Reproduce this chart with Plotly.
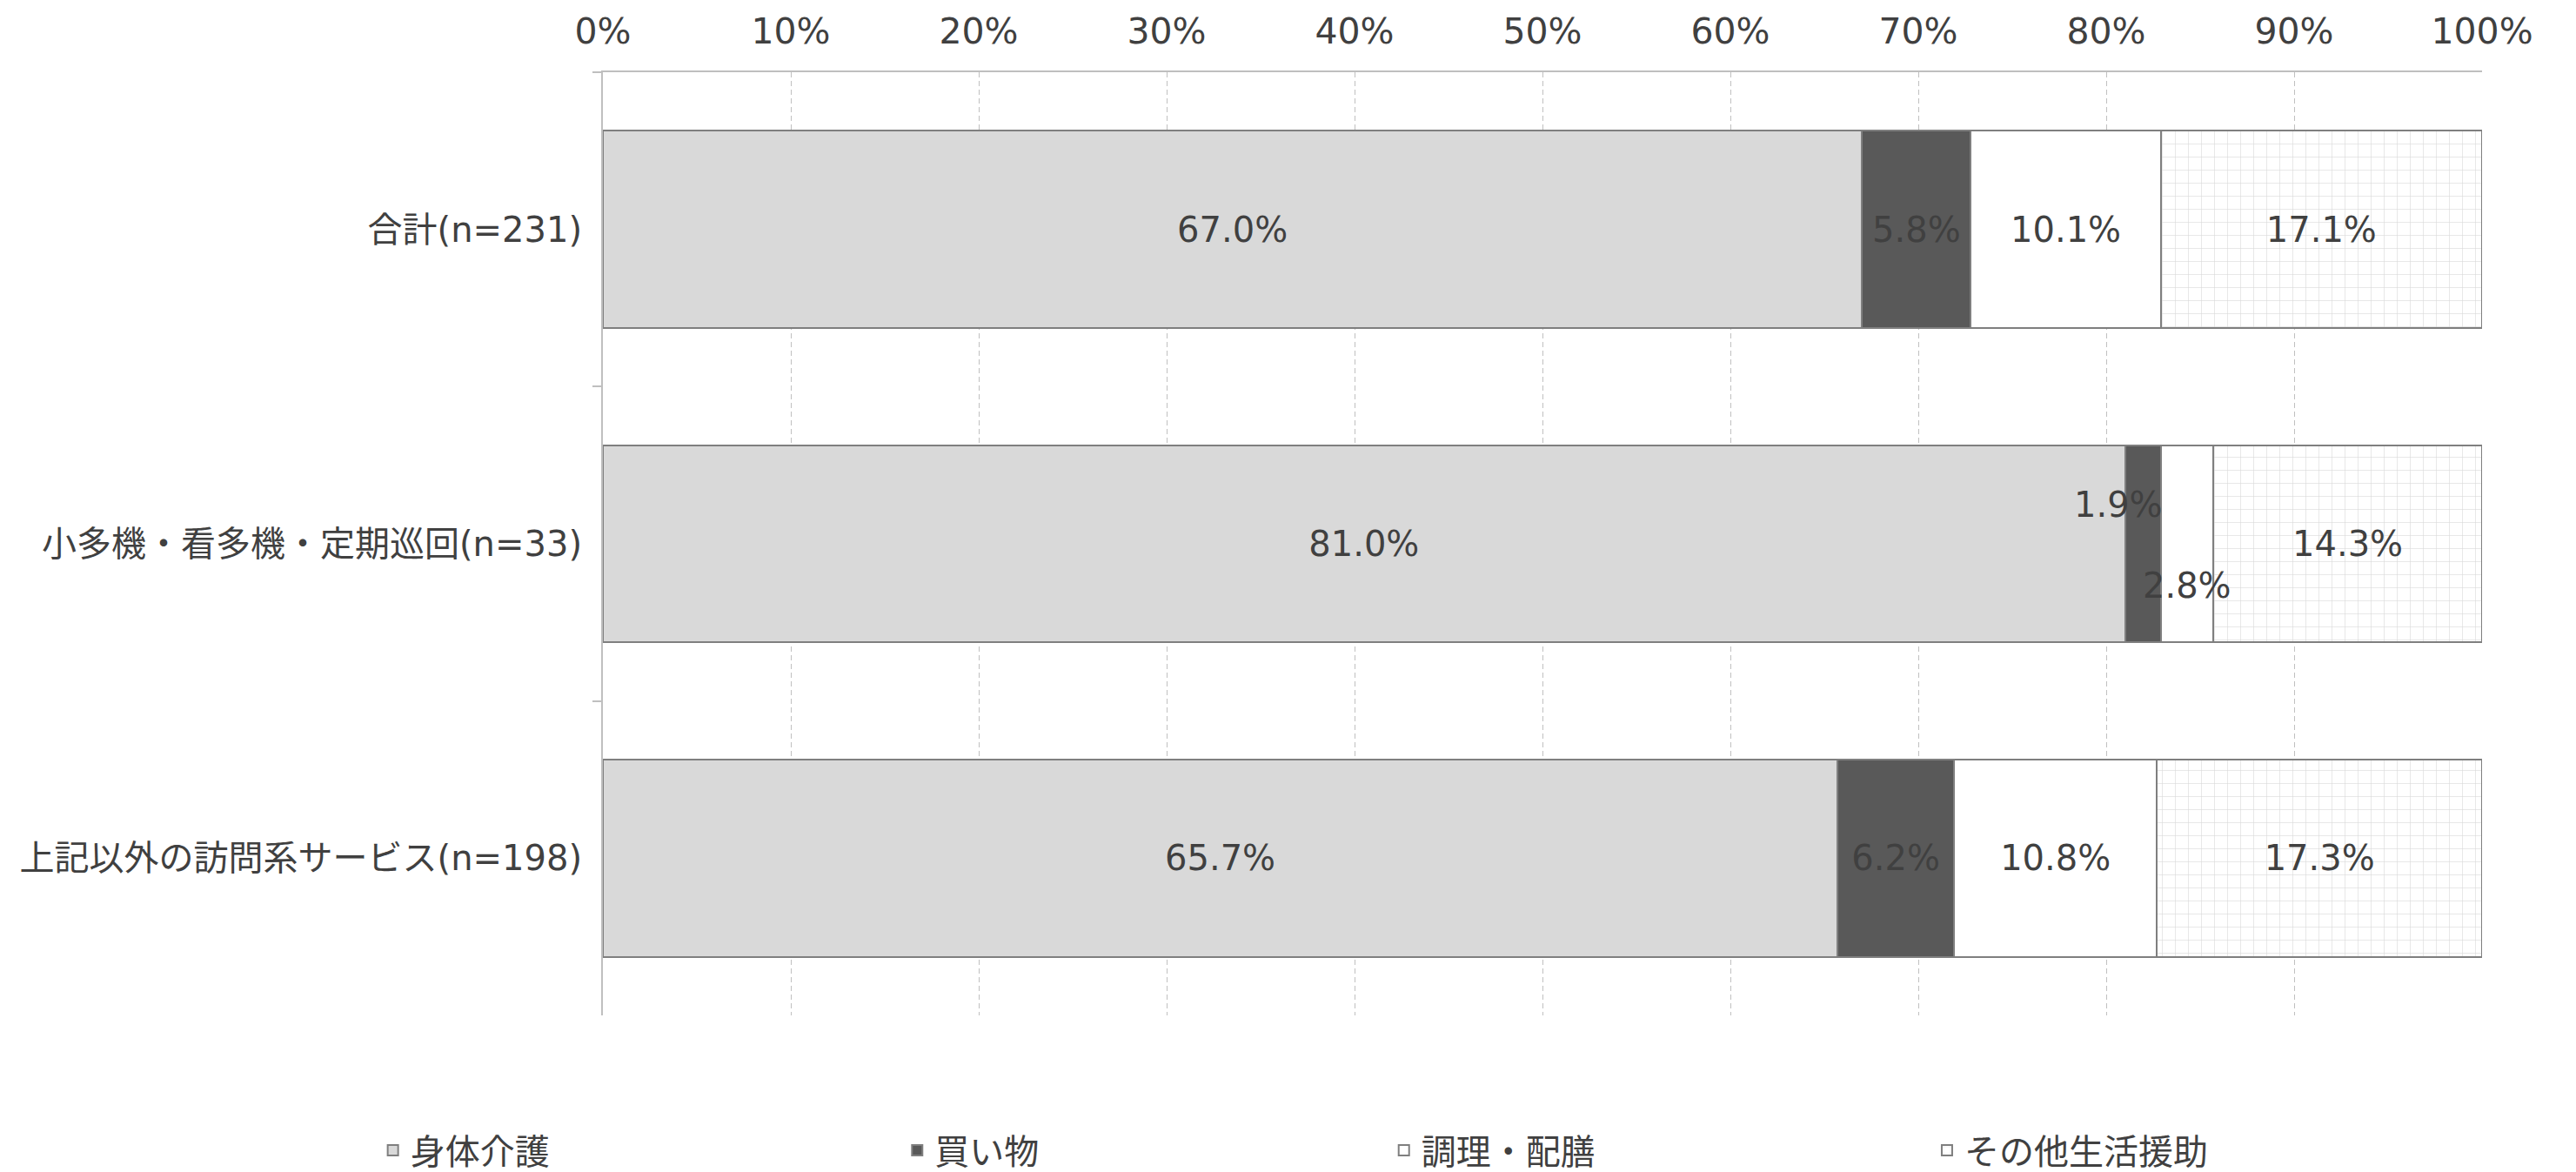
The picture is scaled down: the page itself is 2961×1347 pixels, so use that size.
import plotly.graph_objects as go

categories = ["合計(n=231)", "小多機・看多機・定期巡回(n=33)", "上記以外の訪問系サービス(n=198)"]
series_names = ["身体介護", "買い物", "調理・配膳", "その他生活援助"]
shintai = [67.0, 81.0, 65.7]
kaimono = [5.8, 1.9, 6.2]
chouri = [10.1, 2.8, 10.8]
sonota = [17.1, 14.3, 17.3]
x_ticks = [0, 10, 20, 30, 40, 50, 60, 70, 80, 90, 100]

FONT = "DejaVu Sans, Noto Sans CJK JP, sans-serif"
TXT = "#404040"
EDGE = "#7f7f7f"

series = [shintai, kaimono, chouri, sonota]
fills = ["#d9d9d9", "#595959", "#ffffff", "#ffffff"]
legends = ["legend", "legend2", "legend3", "legend4"]

# the narrow segments in the 2nd row get their labels as offset annotations
small = {(1, 1): (-28, -45), (2, 1): (0, 48)}

fig = go.Figure()
for si, (name, vals) in enumerate(zip(series_names, series)):
    texts = []
    for ci, v in enumerate(vals):
        texts.append("" if (si, ci) in small else f"{v:.1f}%")
    marker = dict(color=fills[si], line=dict(color=EDGE, width=2))
    if si == 3:
        marker["pattern"] = dict(shape="+", fgcolor="#b4b4b4", bgcolor="#ffffff",
                                 size=15, solidity=0.08)
    fig.add_trace(go.Bar(
        y=categories, x=vals, name=name, orientation="h",
        marker=marker, text=texts, textposition="inside",
        insidetextanchor="middle", textangle=0, constraintext="none",
        textfont=dict(family=FONT, size=40, color=TXT),
        legend=legends[si], cliponaxis=False,
    ))

for (si, ci), (dx, dy) in small.items():
    left = sum(series[k][ci] for k in range(si))
    fig.add_annotation(
        x=left + series[si][ci] / 2, y=categories[ci],
        text=f"{series[si][ci]:.1f}%", showarrow=False,
        xshift=dx, yshift=-dy,
        font=dict(family=FONT, size=40, color=TXT),
    )

leg_x = [-0.121, 0.158, 0.417, 0.706]
leg_common = dict(orientation="h", y=-0.143, yanchor="middle", xanchor="left",
                  font=dict(family=FONT, size=40, color=TXT),
                  bgcolor="rgba(0,0,0,0)")
legend_layout = {}
for lg, lx in zip(legends, leg_x):
    legend_layout[lg] = dict(x=lx, **leg_common)

# page body adds an 8px margin, so the figure is a bit smaller than the window
fig.update_layout(
    barmode="stack",
    bargap=0.372,
    width=2953, height=1339,
    margin=dict(l=685, r=108, t=75, b=180, autoexpand=False),
    paper_bgcolor="white", plot_bgcolor="white",
    font=dict(family=FONT, size=40, color=TXT),
    showlegend=True,
    **legend_layout,
)
fig.update_xaxes(
    side="top", range=[0, 100], tickvals=x_ticks,
    ticktext=[f"{t}%" for t in x_ticks], automargin=False,
    showgrid=True, gridcolor="#c0c0c0", griddash="6px,4px", gridwidth=1,
    showline=True, linecolor="#bfbfbf", linewidth=2,
    ticks="", ticklabelstandoff=15, zeroline=False,
    tickfont=dict(family=FONT, size=41, color=TXT),
)
fig.update_yaxes(
    autorange="reversed", showline=True, linecolor="#bfbfbf", linewidth=2,
    ticks="outside", tickson="boundaries", ticklen=10, tickcolor="#bfbfbf",
    tickwidth=2, ticklabelstandoff=14, showgrid=False, automargin=False,
    tickfont=dict(family=FONT, size=40, color=TXT),
)

fig.write_html("out.html")
